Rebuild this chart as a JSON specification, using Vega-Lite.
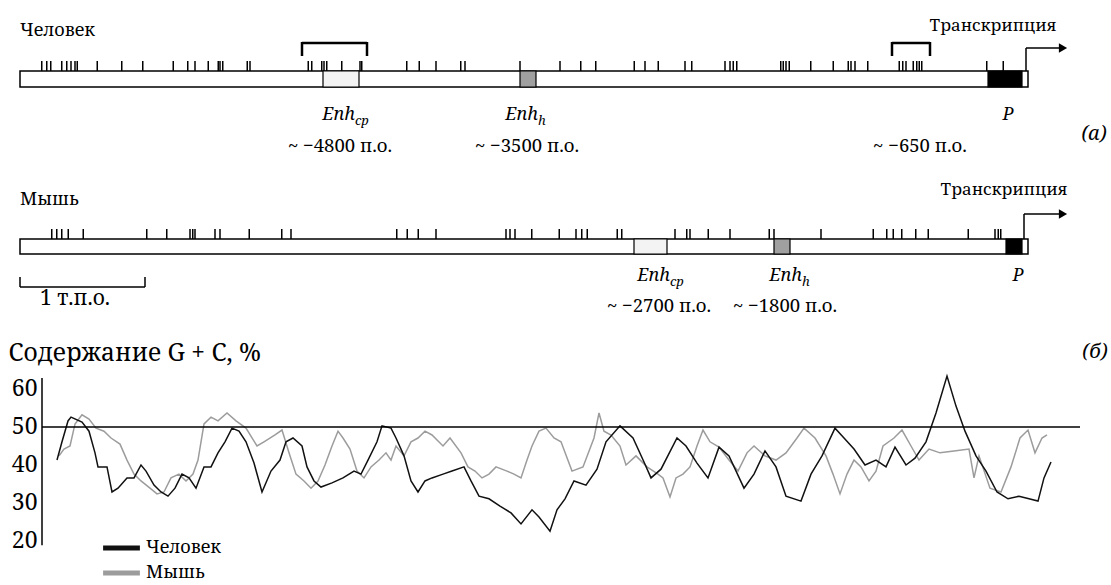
{
  "$schema": "https://vega.github.io/schema/vega-lite/v6.json",
  "width": 1111,
  "height": 585,
  "autosize": {"type": "fit", "contains": "padding"},
  "padding": 0,
  "background": "white",
  "config": {
    "view": {"stroke": null},
    "font": "Noto Serif, DejaVu Serif",
    "text": {"font": "Noto Serif, DejaVu Serif", "color": "black"}
  },
  "datasets": {
    "seq": [
      {"species": "Человек", "start": -8000, "end": 64},
      {"species": "Мышь", "start": -8000, "end": 64}
    ],
    "features": [
      {"species": "Человек", "feature": "Enh_cp", "start": -5576, "end": -5288},
      {"species": "Человек", "feature": "Enh_h", "start": -4000, "end": -3872},
      {"species": "Человек", "feature": "P", "start": -256, "end": 16},
      {"species": "Мышь", "feature": "Enh_cp", "start": -3088, "end": -2824},
      {"species": "Мышь", "feature": "Enh_h", "start": -1968, "end": -1840},
      {"species": "Мышь", "feature": "P", "start": -112, "end": 16}
    ],
    "sites": [
      {"species": "Человек", "bp": -7826}, {"species": "Человек", "bp": -7786}, {"species": "Человек", "bp": -7754},
      {"species": "Человек", "bp": -7666}, {"species": "Человек", "bp": -7626}, {"species": "Человек", "bp": -7592},
      {"species": "Человек", "bp": -7560}, {"species": "Человек", "bp": -7542}, {"species": "Человек", "bp": -7382},
      {"species": "Человек", "bp": -7186}, {"species": "Человек", "bp": -7018}, {"species": "Человек", "bp": -6774},
      {"species": "Человек", "bp": -6658}, {"species": "Человек", "bp": -6600}, {"species": "Человек", "bp": -6494},
      {"species": "Человек", "bp": -6414}, {"species": "Человек", "bp": -6400}, {"species": "Человек", "bp": -6378},
      {"species": "Человек", "bp": -6182}, {"species": "Человек", "bp": -6160}, {"species": "Человек", "bp": -5694},
      {"species": "Человек", "bp": -5666}, {"species": "Человек", "bp": -5586}, {"species": "Человек", "bp": -5568},
      {"species": "Человек", "bp": -5546}, {"species": "Человек", "bp": -5426}, {"species": "Человек", "bp": -5280},
      {"species": "Человек", "bp": -5266}, {"species": "Человек", "bp": -4906}, {"species": "Человек", "bp": -4806},
      {"species": "Человек", "bp": -4672}, {"species": "Человек", "bp": -4474}, {"species": "Человек", "bp": -4440},
      {"species": "Человек", "bp": -4000}, {"species": "Человек", "bp": -3680}, {"species": "Человек", "bp": -3514},
      {"species": "Человек", "bp": -3394}, {"species": "Человек", "bp": -3086}, {"species": "Человек", "bp": -3000},
      {"species": "Человек", "bp": -2894}, {"species": "Человек", "bp": -2680}, {"species": "Человек", "bp": -2626},
      {"species": "Человек", "bp": -2360}, {"species": "Человек", "bp": -2320}, {"species": "Человек", "bp": -2294},
      {"species": "Человек", "bp": -2266}, {"species": "Человек", "bp": -1914}, {"species": "Человек", "bp": -1894},
      {"species": "Человек", "bp": -1872}, {"species": "Человек", "bp": -1846}, {"species": "Человек", "bp": -1674},
      {"species": "Человек", "bp": -1494}, {"species": "Человек", "bp": -1374}, {"species": "Человек", "bp": -1352},
      {"species": "Человек", "bp": -1320}, {"species": "Человек", "bp": -1218}, {"species": "Человек", "bp": -966},
      {"species": "Человек", "bp": -938}, {"species": "Человек", "bp": -912}, {"species": "Человек", "bp": -854},
      {"species": "Человек", "bp": -826}, {"species": "Человек", "bp": -806}, {"species": "Человек", "bp": -786},
      {"species": "Человек", "bp": -266}, {"species": "Человек", "bp": -134},
      {"species": "Мышь", "bp": -7746}, {"species": "Мышь", "bp": -7706}, {"species": "Мышь", "bp": -7666},
      {"species": "Мышь", "bp": -7614}, {"species": "Мышь", "bp": -7494}, {"species": "Мышь", "bp": -6986},
      {"species": "Мышь", "bp": -6826}, {"species": "Мышь", "bp": -6640}, {"species": "Мышь", "bp": -6618},
      {"species": "Мышь", "bp": -6600}, {"species": "Мышь", "bp": -6440}, {"species": "Мышь", "bp": -6400},
      {"species": "Мышь", "bp": -6166}, {"species": "Мышь", "bp": -5906}, {"species": "Мышь", "bp": -5832},
      {"species": "Мышь", "bp": -4986}, {"species": "Мышь", "bp": -4902}, {"species": "Мышь", "bp": -4814},
      {"species": "Мышь", "bp": -4672}, {"species": "Мышь", "bp": -4112}, {"species": "Мышь", "bp": -4080},
      {"species": "Мышь", "bp": -4040}, {"species": "Мышь", "bp": -3906}, {"species": "Мышь", "bp": -3686},
      {"species": "Мышь", "bp": -3552}, {"species": "Мышь", "bp": -3506}, {"species": "Мышь", "bp": -3462},
      {"species": "Мышь", "bp": -3222}, {"species": "Мышь", "bp": -3186}, {"species": "Мышь", "bp": -2760},
      {"species": "Мышь", "bp": -2666}, {"species": "Мышь", "bp": -2640}, {"species": "Мышь", "bp": -2494},
      {"species": "Мышь", "bp": -2320}, {"species": "Мышь", "bp": -2006}, {"species": "Мышь", "bp": -1968},
      {"species": "Мышь", "bp": -1592}, {"species": "Мышь", "bp": -1174}, {"species": "Мышь", "bp": -1066},
      {"species": "Мышь", "bp": -1014}, {"species": "Мышь", "bp": -946}, {"species": "Мышь", "bp": -834},
      {"species": "Мышь", "bp": -734}, {"species": "Мышь", "bp": -414}, {"species": "Мышь", "bp": -200},
      {"species": "Мышь", "bp": -174}, {"species": "Мышь", "bp": -154}
    ],
    "brackets": [
      {"species": "Человек", "start": -5744, "end": -5224},
      {"species": "Человек", "start": -1024, "end": -720}
    ],
    "tss": [
      {"species": "Человек", "bp": 48, "label": "Транскрипция", "labelAt": -216},
      {"species": "Мышь", "bp": 32, "label": "Транскрипция", "labelAt": -128}
    ],
    "enh": [
      {"species": "Человек", "main": "Enh", "sub": "cp", "bp": -5320},
      {"species": "Человек", "main": "Enh", "sub": "h", "bp": -3856},
      {"species": "Человек", "main": "P", "sub": "", "bp": -50},
      {"species": "Мышь", "main": "Enh", "sub": "cp", "bp": -2800},
      {"species": "Мышь", "main": "Enh", "sub": "h", "bp": -1744},
      {"species": "Мышь", "main": "P", "sub": "", "bp": 30}
    ],
    "dist": [
      {"species": "Человек", "label": "~ −4800 п.о.", "bp": -5440},
      {"species": "Человек", "label": "~ −3500 п.о.", "bp": -3944},
      {"species": "Человек", "label": "~ −650 п.о.", "bp": -800},
      {"species": "Мышь", "label": "~ −2700 п.о.", "bp": -2888},
      {"species": "Мышь", "label": "~ −1800 п.о.", "bp": -1880}
    ],
    "scalebar": [{"start": -8000, "end": -7000, "label": "1 т.п.о."}],
    "gc": [
      {"species": "Человек", "bp": -7704, "gc": 41.3}, {"species": "Человек", "bp": -7664, "gc": 46.1},
      {"species": "Человек", "bp": -7616, "gc": 51.6}, {"species": "Человек", "bp": -7592, "gc": 52.6},
      {"species": "Человек", "bp": -7504, "gc": 51.3}, {"species": "Человек", "bp": -7448, "gc": 48.9},
      {"species": "Человек", "bp": -7400, "gc": 43.2}, {"species": "Человек", "bp": -7376, "gc": 39.5},
      {"species": "Человек", "bp": -7304, "gc": 39.5}, {"species": "Человек", "bp": -7264, "gc": 32.9},
      {"species": "Человек", "bp": -7216, "gc": 33.9}, {"species": "Человек", "bp": -7144, "gc": 36.6},
      {"species": "Человек", "bp": -7088, "gc": 36.6}, {"species": "Человек", "bp": -7032, "gc": 40.0},
      {"species": "Человек", "bp": -6992, "gc": 38.4}, {"species": "Человек", "bp": -6928, "gc": 34.7},
      {"species": "Человек", "bp": -6872, "gc": 32.9}, {"species": "Человек", "bp": -6816, "gc": 31.8},
      {"species": "Человек", "bp": -6760, "gc": 33.9}, {"species": "Человек", "bp": -6704, "gc": 37.6},
      {"species": "Человек", "bp": -6648, "gc": 36.6}, {"species": "Человек", "bp": -6592, "gc": 33.9},
      {"species": "Человек", "bp": -6528, "gc": 39.5}, {"species": "Человек", "bp": -6472, "gc": 39.5},
      {"species": "Человек", "bp": -6416, "gc": 43.2}, {"species": "Человек", "bp": -6360, "gc": 46.1},
      {"species": "Человек", "bp": -6304, "gc": 49.7}, {"species": "Человек", "bp": -6248, "gc": 48.9},
      {"species": "Человек", "bp": -6192, "gc": 46.1}, {"species": "Человек", "bp": -6128, "gc": 40.5},
      {"species": "Человек", "bp": -6064, "gc": 32.9}, {"species": "Человек", "bp": -5992, "gc": 38.4},
      {"species": "Человек", "bp": -5920, "gc": 41.3}, {"species": "Человек", "bp": -5872, "gc": 46.1},
      {"species": "Человек", "bp": -5816, "gc": 47.1}, {"species": "Человек", "bp": -5744, "gc": 45.0},
      {"species": "Человек", "bp": -5704, "gc": 39.5}, {"species": "Человек", "bp": -5648, "gc": 35.8},
      {"species": "Человек", "bp": -5592, "gc": 34.2}, {"species": "Человек", "bp": -5504, "gc": 35.3},
      {"species": "Человек", "bp": -5416, "gc": 36.6}, {"species": "Человек", "bp": -5328, "gc": 38.4},
      {"species": "Человек", "bp": -5272, "gc": 37.6}, {"species": "Человек", "bp": -5216, "gc": 41.3},
      {"species": "Человек", "bp": -5144, "gc": 46.1}, {"species": "Человек", "bp": -5104, "gc": 50.3},
      {"species": "Человек", "bp": -5032, "gc": 49.7}, {"species": "Человек", "bp": -4992, "gc": 47.1},
      {"species": "Человек", "bp": -4928, "gc": 42.4}, {"species": "Человек", "bp": -4872, "gc": 35.8},
      {"species": "Человек", "bp": -4816, "gc": 32.9}, {"species": "Человек", "bp": -4760, "gc": 35.8},
      {"species": "Человек", "bp": -4704, "gc": 36.6}, {"species": "Человек", "bp": -4616, "gc": 37.6},
      {"species": "Человек", "bp": -4544, "gc": 38.4}, {"species": "Человек", "bp": -4448, "gc": 39.5},
      {"species": "Человек", "bp": -4392, "gc": 35.8}, {"species": "Человек", "bp": -4328, "gc": 31.8},
      {"species": "Человек", "bp": -4248, "gc": 31.1}, {"species": "Человек", "bp": -4160, "gc": 29.2},
      {"species": "Человек", "bp": -4072, "gc": 27.4}, {"species": "Человек", "bp": -3992, "gc": 24.5},
      {"species": "Человек", "bp": -3904, "gc": 28.2}, {"species": "Человек", "bp": -3848, "gc": 26.3},
      {"species": "Человек", "bp": -3760, "gc": 22.6}, {"species": "Человек", "bp": -3704, "gc": 28.2},
      {"species": "Человек", "bp": -3640, "gc": 31.1}, {"species": "Человек", "bp": -3568, "gc": 35.8},
      {"species": "Человек", "bp": -3472, "gc": 34.7}, {"species": "Человек", "bp": -3384, "gc": 38.9},
      {"species": "Человек", "bp": -3312, "gc": 46.1}, {"species": "Человек", "bp": -3200, "gc": 50.3},
      {"species": "Человек", "bp": -3096, "gc": 47.1}, {"species": "Человек", "bp": -3008, "gc": 40.8},
      {"species": "Человек", "bp": -2952, "gc": 36.6}, {"species": "Человек", "bp": -2872, "gc": 38.9},
      {"species": "Человек", "bp": -2744, "gc": 47.1}, {"species": "Человек", "bp": -2672, "gc": 45.0},
      {"species": "Человек", "bp": -2584, "gc": 40.5}, {"species": "Человек", "bp": -2496, "gc": 36.6},
      {"species": "Человек", "bp": -2408, "gc": 44.7}, {"species": "Человек", "bp": -2328, "gc": 42.4},
      {"species": "Человек", "bp": -2208, "gc": 33.9}, {"species": "Человек", "bp": -2128, "gc": 37.6},
      {"species": "Человек", "bp": -2040, "gc": 43.7}, {"species": "Человек", "bp": -1952, "gc": 39.5},
      {"species": "Человек", "bp": -1872, "gc": 31.8}, {"species": "Человек", "bp": -1752, "gc": 30.5},
      {"species": "Человек", "bp": -1672, "gc": 37.6}, {"species": "Человек", "bp": -1584, "gc": 42.4},
      {"species": "Человек", "bp": -1480, "gc": 49.7}, {"species": "Человек", "bp": -1408, "gc": 47.1},
      {"species": "Человек", "bp": -1328, "gc": 44.2}, {"species": "Человек", "bp": -1240, "gc": 40.0},
      {"species": "Человек", "bp": -1152, "gc": 41.3}, {"species": "Человек", "bp": -1072, "gc": 39.5},
      {"species": "Человек", "bp": -1000, "gc": 44.7}, {"species": "Человек", "bp": -912, "gc": 40.0},
      {"species": "Человек", "bp": -840, "gc": 41.8}, {"species": "Человек", "bp": -752, "gc": 46.1},
      {"species": "Человек", "bp": -672, "gc": 53.7}, {"species": "Человек", "bp": -584, "gc": 63.4},
      {"species": "Человек", "bp": -512, "gc": 55.5}, {"species": "Человек", "bp": -440, "gc": 48.9},
      {"species": "Человек", "bp": -352, "gc": 42.4}, {"species": "Человек", "bp": -272, "gc": 38.4},
      {"species": "Человек", "bp": -184, "gc": 32.9}, {"species": "Человек", "bp": -96, "gc": 31.1},
      {"species": "Человек", "bp": -8, "gc": 31.8}, {"species": "Человек", "bp": 72, "gc": 31.1},
      {"species": "Человек", "bp": 144, "gc": 30.5}, {"species": "Человек", "bp": 192, "gc": 36.6},
      {"species": "Человек", "bp": 248, "gc": 40.8},
      {"species": "Мышь", "bp": -7688, "gc": 42.4}, {"species": "Мышь", "bp": -7648, "gc": 44.2},
      {"species": "Мышь", "bp": -7600, "gc": 45.0}, {"species": "Мышь", "bp": -7560, "gc": 50.8},
      {"species": "Мышь", "bp": -7504, "gc": 53.2}, {"species": "Мышь", "bp": -7448, "gc": 52.1},
      {"species": "Мышь", "bp": -7392, "gc": 49.7}, {"species": "Мышь", "bp": -7328, "gc": 48.9},
      {"species": "Мышь", "bp": -7272, "gc": 47.1}, {"species": "Мышь", "bp": -7200, "gc": 45.5},
      {"species": "Мышь", "bp": -7144, "gc": 41.3}, {"species": "Мышь", "bp": -7088, "gc": 37.6},
      {"species": "Мышь", "bp": -7032, "gc": 35.8}, {"species": "Мышь", "bp": -6960, "gc": 33.9},
      {"species": "Мышь", "bp": -6904, "gc": 32.4}, {"species": "Мышь", "bp": -6848, "gc": 32.9},
      {"species": "Мышь", "bp": -6792, "gc": 36.6}, {"species": "Мышь", "bp": -6728, "gc": 37.6},
      {"species": "Мышь", "bp": -6672, "gc": 35.8}, {"species": "Мышь", "bp": -6616, "gc": 37.6},
      {"species": "Мышь", "bp": -6576, "gc": 41.3}, {"species": "Мышь", "bp": -6528, "gc": 50.8},
      {"species": "Мышь", "bp": -6472, "gc": 52.6}, {"species": "Мышь", "bp": -6416, "gc": 51.6},
      {"species": "Мышь", "bp": -6344, "gc": 53.7}, {"species": "Мышь", "bp": -6272, "gc": 51.6},
      {"species": "Мышь", "bp": -6192, "gc": 49.7}, {"species": "Мышь", "bp": -6104, "gc": 45.0},
      {"species": "Мышь", "bp": -6048, "gc": 46.1}, {"species": "Мышь", "bp": -5960, "gc": 47.9},
      {"species": "Мышь", "bp": -5904, "gc": 49.2}, {"species": "Мышь", "bp": -5848, "gc": 43.2},
      {"species": "Мышь", "bp": -5792, "gc": 37.6}, {"species": "Мышь", "bp": -5728, "gc": 35.8},
      {"species": "Мышь", "bp": -5672, "gc": 33.9}, {"species": "Мышь", "bp": -5616, "gc": 35.8},
      {"species": "Мышь", "bp": -5560, "gc": 40.0}, {"species": "Мышь", "bp": -5504, "gc": 45.0},
      {"species": "Мышь", "bp": -5456, "gc": 48.9}, {"species": "Мышь", "bp": -5416, "gc": 47.1},
      {"species": "Мышь", "bp": -5360, "gc": 44.2}, {"species": "Мышь", "bp": -5304, "gc": 38.4},
      {"species": "Мышь", "bp": -5248, "gc": 36.6}, {"species": "Мышь", "bp": -5192, "gc": 39.5},
      {"species": "Мышь", "bp": -5128, "gc": 41.3}, {"species": "Мышь", "bp": -5072, "gc": 43.2},
      {"species": "Мышь", "bp": -5032, "gc": 41.3}, {"species": "Мышь", "bp": -4992, "gc": 45.0},
      {"species": "Мышь", "bp": -4928, "gc": 42.4}, {"species": "Мышь", "bp": -4872, "gc": 46.1},
      {"species": "Мышь", "bp": -4816, "gc": 47.1}, {"species": "Мышь", "bp": -4760, "gc": 48.9},
      {"species": "Мышь", "bp": -4704, "gc": 47.9}, {"species": "Мышь", "bp": -4616, "gc": 45.0},
      {"species": "Мышь", "bp": -4560, "gc": 47.1}, {"species": "Мышь", "bp": -4472, "gc": 43.2},
      {"species": "Мышь", "bp": -4416, "gc": 39.5}, {"species": "Мышь", "bp": -4360, "gc": 38.4},
      {"species": "Мышь", "bp": -4304, "gc": 36.6}, {"species": "Мышь", "bp": -4248, "gc": 37.6},
      {"species": "Мышь", "bp": -4192, "gc": 39.5}, {"species": "Мышь", "bp": -4104, "gc": 38.4},
      {"species": "Мышь", "bp": -4048, "gc": 37.6}, {"species": "Мышь", "bp": -3992, "gc": 36.6},
      {"species": "Мышь", "bp": -3944, "gc": 41.3}, {"species": "Мышь", "bp": -3904, "gc": 45.0},
      {"species": "Мышь", "bp": -3848, "gc": 48.9}, {"species": "Мышь", "bp": -3792, "gc": 49.7},
      {"species": "Мышь", "bp": -3728, "gc": 47.1}, {"species": "Мышь", "bp": -3672, "gc": 46.1},
      {"species": "Мышь", "bp": -3584, "gc": 38.4}, {"species": "Мышь", "bp": -3496, "gc": 39.5},
      {"species": "Мышь", "bp": -3408, "gc": 47.1}, {"species": "Мышь", "bp": -3368, "gc": 53.7},
      {"species": "Мышь", "bp": -3328, "gc": 48.9}, {"species": "Мышь", "bp": -3272, "gc": 47.9},
      {"species": "Мышь", "bp": -3200, "gc": 45.0}, {"species": "Мышь", "bp": -3152, "gc": 40.0},
      {"species": "Мышь", "bp": -3072, "gc": 42.4}, {"species": "Мышь", "bp": -2984, "gc": 39.5},
      {"species": "Мышь", "bp": -2896, "gc": 37.6}, {"species": "Мышь", "bp": -2856, "gc": 36.6},
      {"species": "Мышь", "bp": -2800, "gc": 31.6}, {"species": "Мышь", "bp": -2752, "gc": 36.6},
      {"species": "Мышь", "bp": -2696, "gc": 37.6}, {"species": "Мышь", "bp": -2640, "gc": 39.5},
      {"species": "Мышь", "bp": -2584, "gc": 45.0}, {"species": "Мышь", "bp": -2536, "gc": 49.2},
      {"species": "Мышь", "bp": -2480, "gc": 46.1}, {"species": "Мышь", "bp": -2408, "gc": 44.7},
      {"species": "Мышь", "bp": -2328, "gc": 41.3}, {"species": "Мышь", "bp": -2256, "gc": 38.4},
      {"species": "Мышь", "bp": -2184, "gc": 43.2}, {"species": "Мышь", "bp": -2128, "gc": 45.0},
      {"species": "Мышь", "bp": -2040, "gc": 42.4}, {"species": "Мышь", "bp": -1952, "gc": 41.3},
      {"species": "Мышь", "bp": -1872, "gc": 43.2}, {"species": "Мышь", "bp": -1784, "gc": 47.1},
      {"species": "Мышь", "bp": -1728, "gc": 49.7}, {"species": "Мышь", "bp": -1640, "gc": 47.1},
      {"species": "Мышь", "bp": -1552, "gc": 42.4}, {"species": "Мышь", "bp": -1496, "gc": 37.6},
      {"species": "Мышь", "bp": -1440, "gc": 32.4}, {"species": "Мышь", "bp": -1384, "gc": 37.6},
      {"species": "Мышь", "bp": -1328, "gc": 41.3}, {"species": "Мышь", "bp": -1272, "gc": 39.5},
      {"species": "Мышь", "bp": -1208, "gc": 35.8}, {"species": "Мышь", "bp": -1152, "gc": 38.4},
      {"species": "Мышь", "bp": -1096, "gc": 45.0}, {"species": "Мышь", "bp": -1008, "gc": 47.1},
      {"species": "Мышь", "bp": -944, "gc": 49.2}, {"species": "Мышь", "bp": -872, "gc": 45.0},
      {"species": "Мышь", "bp": -808, "gc": 41.3}, {"species": "Мышь", "bp": -728, "gc": 44.2},
      {"species": "Мышь", "bp": -640, "gc": 43.2}, {"species": "Мышь", "bp": -528, "gc": 43.7},
      {"species": "Мышь", "bp": -408, "gc": 44.2}, {"species": "Мышь", "bp": -368, "gc": 36.6},
      {"species": "Мышь", "bp": -328, "gc": 42.4}, {"species": "Мышь", "bp": -240, "gc": 33.9},
      {"species": "Мышь", "bp": -152, "gc": 32.9}, {"species": "Мышь", "bp": -72, "gc": 39.5},
      {"species": "Мышь", "bp": 0, "gc": 47.1}, {"species": "Мышь", "bp": 64, "gc": 49.2},
      {"species": "Мышь", "bp": 120, "gc": 43.2}, {"species": "Мышь", "bp": 176, "gc": 47.1},
      {"species": "Мышь", "bp": 216, "gc": 47.9}
    ]
  },
  "layer": [
    {
      "layer": [
        {
          "data": {"name": "seq"},
          "transform": [{"filter": "datum.species === 'Человек'"}],
          "mark": {"type": "rect", "fill": "white", "stroke": "black", "strokeWidth": 1.5},
          "encoding": {
            "x": {"field": "start", "type": "quantitative", "scale": {"domain": [-8160, 728], "nice": false, "zero": false}, "axis": null},
            "x2": {"field": "end"},
            "y": {"datum": 71, "type": "quantitative", "scale": {"domain": [0, 585], "reverse": true, "nice": false, "zero": false}, "axis": null},
            "y2": {"datum": 87}
          }
        },
        {
          "data": {"name": "seq"},
          "transform": [{"filter": "datum.species === 'Мышь'"}],
          "mark": {"type": "rect", "fill": "white", "stroke": "black", "strokeWidth": 1.5},
          "encoding": {
            "x": {"field": "start", "type": "quantitative", "axis": null},
            "x2": {"field": "end"},
            "y": {"datum": 239, "type": "quantitative", "axis": null},
            "y2": {"datum": 254}
          }
        },
        {
          "data": {"name": "features"},
          "transform": [{"filter": "datum.species === 'Человек'"}],
          "mark": {"type": "rect", "stroke": "black", "strokeWidth": 1.2},
          "encoding": {
            "x": {"field": "start", "type": "quantitative", "axis": null},
            "x2": {"field": "end"},
            "y": {"datum": 71, "type": "quantitative", "axis": null},
            "y2": {"datum": 87},
            "fill": {"field": "feature", "type": "nominal", "scale": {"domain": ["Enh_cp", "Enh_h", "P"], "range": ["#f3f3f3", "#a0a0a0", "#000000"]}, "legend": null}
          }
        },
        {
          "data": {"name": "features"},
          "transform": [{"filter": "datum.species === 'Мышь'"}],
          "mark": {"type": "rect", "stroke": "black", "strokeWidth": 1.2},
          "encoding": {
            "x": {"field": "start", "type": "quantitative", "axis": null},
            "x2": {"field": "end"},
            "y": {"datum": 239, "type": "quantitative", "axis": null},
            "y2": {"datum": 254},
            "fill": {"field": "feature", "type": "nominal", "legend": null}
          }
        },
        {
          "data": {"name": "sites"},
          "transform": [{"filter": "datum.species === 'Человек'"}],
          "mark": {"type": "rule", "color": "black", "strokeWidth": 1.5},
          "encoding": {
            "x": {"field": "bp", "type": "quantitative", "axis": null},
            "y": {"datum": 61, "type": "quantitative", "axis": null},
            "y2": {"datum": 71}
          }
        },
        {
          "data": {"name": "sites"},
          "transform": [{"filter": "datum.species === 'Мышь'"}],
          "mark": {"type": "rule", "color": "black", "strokeWidth": 1.5},
          "encoding": {
            "x": {"field": "bp", "type": "quantitative", "axis": null},
            "y": {"datum": 229, "type": "quantitative", "axis": null},
            "y2": {"datum": 239}
          }
        },
        {
          "data": {"name": "brackets"},
          "mark": {"type": "rule", "color": "black", "strokeWidth": 2.5},
          "encoding": {
            "x": {"field": "start", "type": "quantitative", "axis": null},
            "x2": {"field": "end"},
            "y": {"datum": 43, "type": "quantitative", "axis": null}
          }
        },
        {
          "data": {"name": "brackets"},
          "mark": {"type": "rule", "color": "black", "strokeWidth": 2.5},
          "encoding": {
            "x": {"field": "start", "type": "quantitative", "axis": null},
            "y": {"datum": 42, "type": "quantitative", "axis": null},
            "y2": {"datum": 56}
          }
        },
        {
          "data": {"name": "brackets"},
          "mark": {"type": "rule", "color": "black", "strokeWidth": 2.5},
          "encoding": {
            "x": {"field": "end", "type": "quantitative", "axis": null},
            "y": {"datum": 42, "type": "quantitative", "axis": null},
            "y2": {"datum": 56}
          }
        },
        {
          "data": {"name": "tss"},
          "transform": [{"filter": "datum.species === 'Человек'"}],
          "layer": [
            {"mark": {"type": "rule", "color": "black", "strokeWidth": 1.5},
             "encoding": {"x": {"field": "bp", "type": "quantitative", "axis": null}, "y": {"datum": 71, "type": "quantitative", "axis": null}, "y2": {"datum": 48}}},
            {"mark": {"type": "rule", "color": "black", "strokeWidth": 1.5},
             "encoding": {"x": {"field": "bp", "type": "quantitative", "axis": null}, "x2": {"datum": 320}, "y": {"datum": 48, "type": "quantitative", "axis": null}}},
            {"mark": {"type": "point", "shape": "triangle-right", "filled": true, "color": "black", "size": 90, "opacity": 1},
             "encoding": {"x": {"datum": 344, "type": "quantitative", "axis": null}, "y": {"datum": 48, "type": "quantitative", "axis": null}}},
            {"mark": {"type": "text", "fontSize": 17, "align": "center", "baseline": "middle"},
             "encoding": {"x": {"field": "labelAt", "type": "quantitative", "axis": null}, "y": {"datum": 26, "type": "quantitative", "axis": null}, "text": {"field": "label"}}}
          ]
        },
        {
          "data": {"name": "tss"},
          "transform": [{"filter": "datum.species === 'Мышь'"}],
          "layer": [
            {"mark": {"type": "rule", "color": "black", "strokeWidth": 1.5},
             "encoding": {"x": {"field": "bp", "type": "quantitative", "axis": null}, "y": {"datum": 239, "type": "quantitative", "axis": null}, "y2": {"datum": 214}}},
            {"mark": {"type": "rule", "color": "black", "strokeWidth": 1.5},
             "encoding": {"x": {"field": "bp", "type": "quantitative", "axis": null}, "x2": {"datum": 320}, "y": {"datum": 214, "type": "quantitative", "axis": null}}},
            {"mark": {"type": "point", "shape": "triangle-right", "filled": true, "color": "black", "size": 90, "opacity": 1},
             "encoding": {"x": {"datum": 344, "type": "quantitative", "axis": null}, "y": {"datum": 214, "type": "quantitative", "axis": null}}},
            {"mark": {"type": "text", "fontSize": 17, "align": "center", "baseline": "middle"},
             "encoding": {"x": {"field": "labelAt", "type": "quantitative", "axis": null}, "y": {"datum": 190, "type": "quantitative", "axis": null}, "text": {"field": "label"}}}
          ]
        },
        {
          "data": {"name": "seq"},
          "transform": [{"filter": "datum.species === 'Человек'"}],
          "mark": {"type": "text", "fontSize": 18, "align": "left", "baseline": "middle"},
          "encoding": {"x": {"field": "start", "type": "quantitative", "axis": null}, "y": {"datum": 31, "type": "quantitative", "axis": null}, "text": {"field": "species"}}
        },
        {
          "data": {"name": "seq"},
          "transform": [{"filter": "datum.species === 'Мышь'"}],
          "mark": {"type": "text", "fontSize": 18, "align": "left", "baseline": "middle"},
          "encoding": {"x": {"field": "start", "type": "quantitative", "axis": null}, "y": {"datum": 200, "type": "quantitative", "axis": null}, "text": {"field": "species"}}
        },
        {
          "data": {"name": "enh"},
          "transform": [{"filter": "datum.species === 'Человек'"}],
          "layer": [
            {"mark": {"type": "text", "fontSize": 18, "fontStyle": "italic", "align": "right", "baseline": "middle"},
             "encoding": {"x": {"field": "bp", "type": "quantitative", "axis": null}, "y": {"datum": 115, "type": "quantitative", "axis": null}, "text": {"field": "main"}}},
            {"mark": {"type": "text", "fontSize": 13, "fontStyle": "italic", "align": "left", "baseline": "middle"},
             "encoding": {"x": {"field": "bp", "type": "quantitative", "axis": null}, "y": {"datum": 121, "type": "quantitative", "axis": null}, "text": {"field": "sub"}}}
          ]
        },
        {
          "data": {"name": "enh"},
          "transform": [{"filter": "datum.species === 'Мышь'"}],
          "layer": [
            {"mark": {"type": "text", "fontSize": 18, "fontStyle": "italic", "align": "right", "baseline": "middle"},
             "encoding": {"x": {"field": "bp", "type": "quantitative", "axis": null}, "y": {"datum": 276, "type": "quantitative", "axis": null}, "text": {"field": "main"}}},
            {"mark": {"type": "text", "fontSize": 13, "fontStyle": "italic", "align": "left", "baseline": "middle"},
             "encoding": {"x": {"field": "bp", "type": "quantitative", "axis": null}, "y": {"datum": 282, "type": "quantitative", "axis": null}, "text": {"field": "sub"}}}
          ]
        },
        {
          "data": {"name": "dist"},
          "transform": [{"filter": "datum.species === 'Человек'"}],
          "mark": {"type": "text", "fontSize": 18.5, "align": "center", "baseline": "middle"},
          "encoding": {"x": {"field": "bp", "type": "quantitative", "axis": null}, "y": {"datum": 146, "type": "quantitative", "axis": null}, "text": {"field": "label"}}
        },
        {
          "data": {"name": "dist"},
          "transform": [{"filter": "datum.species === 'Мышь'"}],
          "mark": {"type": "text", "fontSize": 18.5, "align": "center", "baseline": "middle"},
          "encoding": {"x": {"field": "bp", "type": "quantitative", "axis": null}, "y": {"datum": 306, "type": "quantitative", "axis": null}, "text": {"field": "label"}}
        },
        {
          "data": {"name": "scalebar"},
          "layer": [
            {"mark": {"type": "rule", "color": "black", "strokeWidth": 1.5},
             "encoding": {"x": {"field": "start", "type": "quantitative", "axis": null}, "x2": {"field": "end"}, "y": {"datum": 287, "type": "quantitative", "axis": null}}},
            {"mark": {"type": "rule", "color": "black", "strokeWidth": 1.5},
             "encoding": {"x": {"field": "start", "type": "quantitative", "axis": null}, "y": {"datum": 277, "type": "quantitative", "axis": null}, "y2": {"datum": 287}}},
            {"mark": {"type": "rule", "color": "black", "strokeWidth": 1.5},
             "encoding": {"x": {"field": "end", "type": "quantitative", "axis": null}, "y": {"datum": 277, "type": "quantitative", "axis": null}, "y2": {"datum": 287}}},
            {"mark": {"type": "text", "fontSize": 21, "align": "left", "baseline": "middle", "dx": 20},
             "encoding": {"x": {"field": "start", "type": "quantitative", "axis": null}, "y": {"datum": 299, "type": "quantitative", "axis": null}, "text": {"field": "label"}}}
          ]
        },
        {
          "data": {"values": [{"panel": "(а)", "bp": 592}]},
          "mark": {"type": "text", "fontSize": 20, "fontStyle": "italic", "align": "center", "baseline": "middle"},
          "encoding": {"x": {"field": "bp", "type": "quantitative", "axis": null}, "y": {"datum": 134, "type": "quantitative", "axis": null}, "text": {"field": "panel"}}
        },
        {
          "data": {"values": [{"panel": "(б)", "bp": 600}]},
          "mark": {"type": "text", "fontSize": 20, "fontStyle": "italic", "align": "center", "baseline": "middle"},
          "encoding": {"x": {"field": "bp", "type": "quantitative", "axis": null}, "y": {"datum": 352, "type": "quantitative", "axis": null}, "text": {"field": "panel"}}
        }
      ]
    },
    {
      "layer": [
        {
          "data": {"name": "gc"},
          "transform": [{"filter": "datum.species === 'Мышь'"}],
          "mark": {"type": "line", "strokeWidth": 1.5},
          "encoding": {
            "x": {"field": "bp", "type": "quantitative", "axis": null},
            "y": {
              "field": "gc", "type": "quantitative",
              "scale": {"domain": [8.42, 162.37], "nice": false, "zero": false},
              "axis": {
                "orient": "left", "offset": -42, "values": [20, 30, 40, 50, 60],
                "ticks": false, "domain": false, "grid": false,
                "labelFont": "Noto Serif, DejaVu Serif", "labelFontSize": 23, "labelColor": "black", "labelPadding": 5,
                "title": "Содержание G + C, %", "titleAngle": 0, "titleAlign": "left", "titleBaseline": "middle",
                "titleX": -34, "titleY": 353, "titleFont": "Noto Serif, DejaVu Serif", "titleFontSize": 24.5,
                "titleFontWeight": "normal", "titleColor": "black"
              }
            },
            "color": {
              "field": "species", "type": "nominal",
              "scale": {"domain": ["Человек", "Мышь"], "range": ["#111111", "#9c9c9c"]},
              "legend": {
                "orient": "none", "legendX": 111, "legendY": 537.5, "title": null,
                "symbolType": "M-2.3,0H2.3", "symbolSize": 256, "symbolStrokeWidth": 5,
                "labelFont": "Noto Serif, DejaVu Serif", "labelFontSize": 18, "labelColor": "black",
                "labelOffset": 14, "rowPadding": 4
              }
            }
          }
        },
        {
          "data": {"name": "gc"},
          "transform": [{"filter": "datum.species === 'Человек'"}],
          "mark": {"type": "line", "strokeWidth": 1.5},
          "encoding": {
            "x": {"field": "bp", "type": "quantitative", "axis": null},
            "y": {"field": "gc", "type": "quantitative"},
            "color": {"field": "species", "type": "nominal"}
          }
        },
        {
          "data": {"values": [{"gc": 50}]},
          "mark": {"type": "rule", "color": "black", "strokeWidth": 1.3},
          "encoding": {
            "x": {"datum": -7824, "type": "quantitative", "axis": null},
            "x2": {"datum": 480},
            "y": {"field": "gc", "type": "quantitative"}
          }
        },
        {
          "data": {"values": [{"low": 18.9, "high": 62.9}]},
          "mark": {"type": "rule", "color": "black", "strokeWidth": 1.5},
          "encoding": {
            "x": {"datum": -7824, "type": "quantitative", "axis": null},
            "y": {"field": "low", "type": "quantitative"},
            "y2": {"field": "high"}
          }
        }
      ]
    }
  ],
  "resolve": {"scale": {"y": "independent"}}
}
